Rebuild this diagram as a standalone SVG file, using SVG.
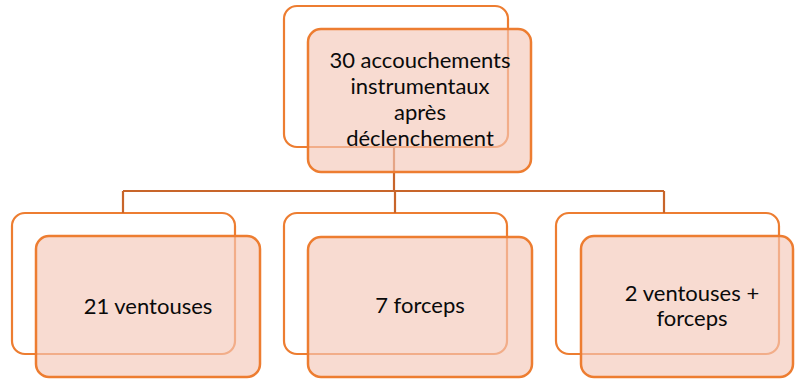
<svg xmlns="http://www.w3.org/2000/svg" width="795" height="381" viewBox="0 0 795 381">
<style>
.back{fill:#ffffff;stroke:#ED7D31;stroke-width:2.2}
.front{fill:#F4C8B9;fill-opacity:0.65;stroke:#ED7D31;stroke-width:2.5}
.conn{fill:none;stroke:#C8652A;stroke-width:2.2}
text{font-family:Lato,"Liberation Sans",sans-serif;font-size:22px;fill:#0a0a0a;text-anchor:middle}
</style>
<rect width="795" height="381" fill="#ffffff"/>
<g id="back-layer">
<rect class="back" x="284" y="6" width="224" height="141" rx="13"/>
<rect class="back" x="12" y="213" width="223" height="141" rx="13"/>
<rect class="back" x="284" y="213" width="223" height="141" rx="13"/>
<rect class="back" x="556" y="213" width="223" height="141" rx="13"/>
</g>
<g id="connectors">
<path class="conn" d="M394,147 V191 M123,191 H664 M123,191 V213 M395,191 V213 M664,191 V213"/>
</g>
<g id="node-root">
<rect class="front" x="308" y="29" width="223" height="143" rx="13"/>
<text x="420" y="68">30 accouchements</text>
<text x="420" y="94">instrumentaux</text>
<text x="420" y="120">après</text>
<text x="420" y="146">déclenchement</text>
</g>
<g id="node-ventouses">
<rect class="front" x="36" y="236" width="224" height="141" rx="13"/>
<text x="148" y="314">21 ventouses</text>
</g>
<g id="node-forceps">
<rect class="front" x="308" y="237" width="224" height="140" rx="13"/>
<text x="420" y="313">7 forceps</text>
</g>
<g id="node-both">
<rect class="front" x="581" y="236" width="212" height="141" rx="13"/>
<text x="692" y="301">2 ventouses +</text>
<text x="692" y="326">forceps</text>
</g>
</svg>
